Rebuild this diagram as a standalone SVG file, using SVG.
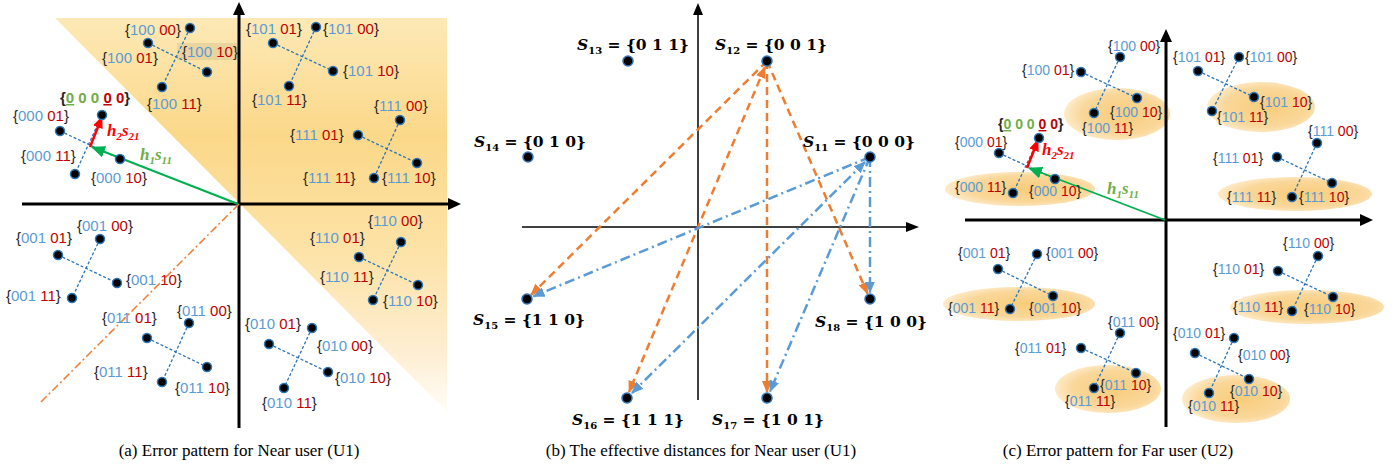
<svg xmlns="http://www.w3.org/2000/svg" width="1396" height="466" viewBox="0 0 1396 466">
<defs>
<style>
.l{font-family:"Liberation Sans",Arial,sans-serif;font-size:15px;fill:#262626}
.lc{font-size:14px}
.b{fill:#5b9bd5}
.r{fill:#c00000}
.g{fill:#70ad47}
.dot{fill:#000;stroke:#2e75b6;stroke-width:1.5}
.cl{stroke:#2e75b6;stroke-width:1.3;stroke-dasharray:3 2;fill:none}
.ax{stroke:#000;stroke-width:3;fill:none}
.axt{stroke:#000;stroke-width:1.5;fill:none}
.m{font-family:"Liberation Serif","DejaVu Serif",serif;font-size:17px;font-weight:bold;font-style:italic}
.s{font-family:"DejaVu Serif",serif;font-size:15.5px;font-weight:bold;fill:#000}
.or{stroke:#ed7d31;stroke-width:2.5;stroke-dasharray:8 5;fill:none}
.bl{stroke:#5b9bd5;stroke-width:2.5;stroke-dasharray:10 4 2 4;fill:none}
.cap{font-family:"Liberation Serif","Times New Roman",serif;font-size:17px;fill:#000;text-anchor:middle}
.ell{fill:url(#eg)}
</style>
<linearGradient id="tg" gradientUnits="userSpaceOnUse" x1="0" y1="18" x2="0" y2="412">
<stop offset="0" stop-color="#fde9b6"/>
<stop offset="0.3" stop-color="#fbd889"/>
<stop offset="0.6" stop-color="#fde3a8"/>
<stop offset="0.85" stop-color="#feeed2"/>
<stop offset="1" stop-color="#fffdf8"/>
</linearGradient>
<radialGradient id="eg" cx="0.55" cy="0.5" r="0.55">
<stop offset="0" stop-color="#f8cc7a"/>
<stop offset="0.7" stop-color="#fad79a"/>
<stop offset="1" stop-color="#fdebc8"/>
</radialGradient>
<marker id="mo" markerUnits="userSpaceOnUse" markerWidth="12" markerHeight="10" refX="11" refY="5" orient="auto-start-reverse"><path d="M0,0 L12,5 L0,10 z" fill="#ed7d31"/></marker>
<marker id="mb" markerUnits="userSpaceOnUse" markerWidth="12" markerHeight="10" refX="11" refY="5" orient="auto-start-reverse"><path d="M0,0 L12,5 L0,10 z" fill="#5b9bd5"/></marker>
<marker id="mg" markerUnits="userSpaceOnUse" markerWidth="14" markerHeight="12" refX="13" refY="6" orient="auto"><path d="M0,0 L14,6 L0,12 z" fill="#00b050"/></marker>
<marker id="mr" markerUnits="userSpaceOnUse" markerWidth="12" markerHeight="10" refX="11" refY="5" orient="auto"><path d="M0,0 L12,5 L0,10 z" fill="#ff0000"/></marker>
</defs>
<rect width="1396" height="466" fill="#fff"/>

<!-- ============ Panel (a) ============ -->
<g id="panel-a">
<polygon points="55,18 447,18 447,412" fill="url(#tg)"/>
<rect x="177" y="43" width="62" height="17" fill="#000" opacity="0.07"/>
<g id="a-axes">
<line class="ax" x1="239" y1="12" x2="239" y2="428"/>
<polygon points="239,2 233,15 245,15" fill="#000"/>
<line class="ax" x1="22" y1="204" x2="450" y2="204"/>
<polygon points="461,204 448,198 448,210" fill="#000"/>
</g>
<g id="a-connectors">
<line x1="239" y1="204" x2="40" y2="403" stroke="#ed7d31" stroke-width="1.5" stroke-dasharray="8 3 2 3"/>
<line class="cl" x1="60" y1="131" x2="120" y2="159"/><line class="cl" x1="102" y1="115" x2="75" y2="174"/>
<line class="cl" x1="148" y1="43" x2="207" y2="72"/><line class="cl" x1="190" y1="28" x2="162" y2="87"/>
<line class="cl" x1="273" y1="43" x2="333" y2="71"/><line class="cl" x1="316" y1="27" x2="289" y2="86"/>
<line class="cl" x1="358" y1="135" x2="417" y2="163"/><line class="cl" x1="400" y1="120" x2="374" y2="178"/>
<line class="cl" x1="58" y1="255" x2="117" y2="283"/><line class="cl" x1="100" y1="239" x2="72" y2="298"/>
<line class="cl" x1="147" y1="338" x2="207" y2="367"/><line class="cl" x1="189" y1="323" x2="162" y2="382"/>
<line class="cl" x1="359" y1="257" x2="418" y2="285"/><line class="cl" x1="401" y1="242" x2="373" y2="300"/>
<line class="cl" x1="269" y1="344" x2="328" y2="372"/><line class="cl" x1="312" y1="328" x2="284" y2="388"/>
<line x1="238" y1="204" x2="92" y2="147" stroke="#00b050" stroke-width="2" marker-end="url(#mg)"/>
<line x1="90" y1="147" x2="102" y2="117" stroke="#ff0000" stroke-width="2.5" marker-end="url(#mr)"/>
</g>
<g id="a-g000">
<circle class="dot" cx="60" cy="131" r="4.5"/><circle class="dot" cx="102" cy="115" r="4.5"/><circle class="dot" cx="120" cy="159" r="4.5"/><circle class="dot" cx="75" cy="174" r="4.5"/>
<text class="l" x="13" y="121">{<tspan class="b">000</tspan> <tspan class="r">01</tspan>}</text>
<text class="l" x="21" y="161">{<tspan class="b">000</tspan> <tspan class="r">11</tspan>}</text>
<text class="l" x="91" y="183">{<tspan class="b">000</tspan> <tspan class="r">10</tspan>}</text>
<text class="l" x="60" y="103" font-weight="bold">{<tspan class="g" text-decoration="underline">0</tspan><tspan class="g"> 0 0 </tspan><tspan class="r" text-decoration="underline">0</tspan><tspan class="r"> 0</tspan>}</text>
<text class="m" x="107" y="136" fill="#ff0000">h<tspan font-size="11" dy="4">2</tspan><tspan dy="-4">s</tspan><tspan font-size="11" dy="4">21</tspan></text>
<text class="m" x="140" y="160" fill="#70ad47">h<tspan font-size="11" dy="4">1</tspan><tspan dy="-4">s</tspan><tspan font-size="11" dy="4">11</tspan></text>
</g>
<g id="a-g100">
<circle class="dot" cx="190" cy="28" r="4.5"/><circle class="dot" cx="148" cy="43" r="4.5"/><circle class="dot" cx="207" cy="72" r="4.5"/><circle class="dot" cx="162" cy="87" r="4.5"/>
<text class="l" x="125" y="35">{<tspan class="b">100</tspan> <tspan class="r">00</tspan>}</text>
<text class="l" x="102" y="63">{<tspan class="b">100</tspan> <tspan class="r">01</tspan>}</text>
<text class="l" x="182" y="57">{<tspan class="b">100</tspan> <tspan class="r">10</tspan>}</text>
<text class="l" x="147" y="109">{<tspan class="b">100</tspan> <tspan class="r">11</tspan>}</text>
</g>
<g id="a-g101">
<circle class="dot" cx="316" cy="27" r="4.5"/><circle class="dot" cx="273" cy="43" r="4.5"/><circle class="dot" cx="333" cy="71" r="4.5"/><circle class="dot" cx="289" cy="86" r="4.5"/>
<text class="l" x="246" y="34">{<tspan class="b">101</tspan> <tspan class="r">01</tspan>}</text>
<text class="l" x="323" y="34">{<tspan class="b">101</tspan> <tspan class="r">00</tspan>}</text>
<text class="l" x="343" y="76">{<tspan class="b">101</tspan> <tspan class="r">10</tspan>}</text>
<text class="l" x="252" y="105">{<tspan class="b">101</tspan> <tspan class="r">11</tspan>}</text>
</g>
<g id="a-g111">
<circle class="dot" cx="400" cy="120" r="4.5"/><circle class="dot" cx="358" cy="135" r="4.5"/><circle class="dot" cx="417" cy="163" r="4.5"/><circle class="dot" cx="374" cy="178" r="4.5"/>
<text class="l" x="374" y="111">{<tspan class="b">111</tspan> <tspan class="r">00</tspan>}</text>
<text class="l" x="290" y="140">{<tspan class="b">111</tspan> <tspan class="r">01</tspan>}</text>
<text class="l" x="303" y="183">{<tspan class="b">111</tspan> <tspan class="r">11</tspan>}</text>
<text class="l" x="382" y="183">{<tspan class="b">111</tspan> <tspan class="r">10</tspan>}</text>
</g>
<g id="a-g001">
<circle class="dot" cx="100" cy="239" r="4.5"/><circle class="dot" cx="58" cy="255" r="4.5"/><circle class="dot" cx="117" cy="283" r="4.5"/><circle class="dot" cx="72" cy="298" r="4.5"/>
<text class="l" x="77" y="231">{<tspan class="b">001</tspan> <tspan class="r">00</tspan>}</text>
<text class="l" x="16" y="243">{<tspan class="b">001</tspan> <tspan class="r">01</tspan>}</text>
<text class="l" x="126" y="285">{<tspan class="b">001</tspan> <tspan class="r">10</tspan>}</text>
<text class="l" x="6" y="301">{<tspan class="b">001</tspan> <tspan class="r">11</tspan>}</text>
</g>
<g id="a-g011">
<circle class="dot" cx="189" cy="323" r="4.5"/><circle class="dot" cx="147" cy="338" r="4.5"/><circle class="dot" cx="207" cy="367" r="4.5"/><circle class="dot" cx="162" cy="382" r="4.5"/>
<text class="l" x="177" y="316">{<tspan class="b">011</tspan> <tspan class="r">00</tspan>}</text>
<text class="l" x="102" y="323">{<tspan class="b">011</tspan> <tspan class="r">01</tspan>}</text>
<text class="l" x="94" y="377">{<tspan class="b">011</tspan> <tspan class="r">11</tspan>}</text>
<text class="l" x="175" y="393">{<tspan class="b">011</tspan> <tspan class="r">10</tspan>}</text>
</g>
<g id="a-g110">
<circle class="dot" cx="401" cy="242" r="4.5"/><circle class="dot" cx="359" cy="257" r="4.5"/><circle class="dot" cx="418" cy="285" r="4.5"/><circle class="dot" cx="373" cy="300" r="4.5"/>
<text class="l" x="368" y="226">{<tspan class="b">110</tspan> <tspan class="r">00</tspan>}</text>
<text class="l" x="310" y="243">{<tspan class="b">110</tspan> <tspan class="r">01</tspan>}</text>
<text class="l" x="320" y="282">{<tspan class="b">110</tspan> <tspan class="r">11</tspan>}</text>
<text class="l" x="383" y="306">{<tspan class="b">110</tspan> <tspan class="r">10</tspan>}</text>
</g>
<g id="a-g010">
<circle class="dot" cx="312" cy="328" r="4.5"/><circle class="dot" cx="269" cy="344" r="4.5"/><circle class="dot" cx="328" cy="372" r="4.5"/><circle class="dot" cx="284" cy="388" r="4.5"/>
<text class="l" x="245" y="329">{<tspan class="b">010</tspan> <tspan class="r">01</tspan>}</text>
<text class="l" x="317" y="351">{<tspan class="b">010</tspan> <tspan class="r">00</tspan>}</text>
<text class="l" x="335" y="383">{<tspan class="b">010</tspan> <tspan class="r">10</tspan>}</text>
<text class="l" x="262" y="408">{<tspan class="b">010</tspan> <tspan class="r">11</tspan>}</text>
</g>
<text class="cap" x="239" y="456">(a) Error pattern for Near user (U1)</text>
</g>

<!-- ============ Panel (b) ============ -->
<g id="panel-b">
<g id="b-axes">
<line class="axt" x1="698" y1="12" x2="698" y2="400"/>
<polygon points="698,3 693,15 703,15" fill="#000"/>
<line class="axt" x1="522" y1="227" x2="908" y2="227"/>
<polygon points="919,227 906,222 906,232" fill="#000"/>
</g>
<g id="b-connectors">
<line class="or" x1="767" y1="61" x2="531" y2="295" marker-end="url(#mo)"/>
<line class="or" x1="765" y1="67" x2="629" y2="392" marker-start="url(#mo)" marker-end="url(#mo)"/>
<line class="or" x1="767" y1="61" x2="767" y2="392" marker-end="url(#mo)"/>
<line class="or" x1="767" y1="61" x2="867.5" y2="293.5" marker-end="url(#mo)"/>
<line class="bl" x1="870" y1="157" x2="533.5" y2="296.3" marker-end="url(#mb)"/>
<line class="bl" x1="865" y1="162" x2="632" y2="393" marker-start="url(#mb)" marker-end="url(#mb)"/>
<line class="bl" x1="870" y1="157" x2="770" y2="391.5" marker-end="url(#mb)"/>
<line class="bl" x1="870" y1="157" x2="870" y2="292.5" marker-end="url(#mb)"/>
</g>
<g id="b-s11"><circle class="dot" cx="870" cy="157" r="5"/><text class="s" x="803" y="147"><tspan font-style="italic">S</tspan><tspan font-size="10" dy="4">11</tspan><tspan dy="-4"> = {0 0 0}</tspan></text></g>
<g id="b-s12"><circle class="dot" cx="767" cy="61" r="5"/><text class="s" x="715" y="50"><tspan font-style="italic">S</tspan><tspan font-size="10" dy="4">12</tspan><tspan dy="-4"> = {0 0 1}</tspan></text></g>
<g id="b-s13"><circle class="dot" cx="628" cy="61" r="5"/><text class="s" x="577" y="50"><tspan font-style="italic">S</tspan><tspan font-size="10" dy="4">13</tspan><tspan dy="-4"> = {0 1 1}</tspan></text></g>
<g id="b-s14"><circle class="dot" cx="528" cy="157" r="5"/><text class="s" x="474" y="147"><tspan font-style="italic">S</tspan><tspan font-size="10" dy="4">14</tspan><tspan dy="-4"> = {0 1 0}</tspan></text></g>
<g id="b-s15"><circle class="dot" cx="527" cy="299" r="5"/><text class="s" x="473" y="325"><tspan font-style="italic">S</tspan><tspan font-size="10" dy="4">15</tspan><tspan dy="-4"> = {1 1 0}</tspan></text></g>
<g id="b-s16"><circle class="dot" cx="627" cy="398" r="5"/><text class="s" x="572" y="425"><tspan font-style="italic">S</tspan><tspan font-size="10" dy="4">16</tspan><tspan dy="-4"> = {1 1 1}</tspan></text></g>
<g id="b-s17"><circle class="dot" cx="767" cy="398" r="5"/><text class="s" x="712" y="425"><tspan font-style="italic">S</tspan><tspan font-size="10" dy="4">17</tspan><tspan dy="-4"> = {1 0 1}</tspan></text></g>
<g id="b-s18"><circle class="dot" cx="870" cy="299" r="5"/><text class="s" x="815" y="327"><tspan font-style="italic">S</tspan><tspan font-size="10" dy="4">18</tspan><tspan dy="-4"> = {1 0 0}</tspan></text></g>
<text class="cap" x="701" y="456">(b) The effective distances for Near user (U1)</text>
</g>

<!-- ============ Panel (c) ============ -->
<g id="panel-c">
<g id="c-ellipses">
<ellipse class="ell" cx="1020" cy="189" rx="75" ry="17"/>
<ellipse class="ell" cx="1117" cy="114" rx="53" ry="26"/>
<ellipse class="ell" cx="1261" cy="107" rx="54" ry="25"/>
<ellipse class="ell" cx="1295" cy="194" rx="77" ry="17"/>
<ellipse class="ell" cx="1019" cy="304" rx="76" ry="17"/>
<ellipse class="ell" cx="1108" cy="389" rx="53" ry="24"/>
<ellipse class="ell" cx="1307" cy="307" rx="77" ry="17"/>
<ellipse class="ell" cx="1236" cy="399" rx="54" ry="24"/>
</g>
<g id="c-axes">
<line class="ax" x1="1166" y1="40" x2="1166" y2="427"/>
<polygon points="1166,29 1160,42 1172,42" fill="#000"/>
<line class="ax" x1="965" y1="220" x2="1362" y2="220"/>
<polygon points="1373,220 1360,214 1360,226" fill="#000"/>
</g>
<g id="c-connectors">
<line class="cl" x1="999" y1="153" x2="1055" y2="179"/><line class="cl" x1="1039" y1="138" x2="1013" y2="193"/>
<line class="cl" x1="1081" y1="72" x2="1137" y2="98"/><line class="cl" x1="1120" y1="57" x2="1094" y2="113"/>
<line class="cl" x1="1198" y1="71" x2="1254" y2="97"/><line class="cl" x1="1239" y1="57" x2="1212" y2="111"/>
<line class="cl" x1="1277" y1="157" x2="1332" y2="183"/><line class="cl" x1="1317" y1="143" x2="1292" y2="197"/>
<line class="cl" x1="998" y1="269" x2="1053" y2="296"/><line class="cl" x1="1037" y1="254" x2="1010" y2="309"/>
<line class="cl" x1="1081" y1="348" x2="1136" y2="373"/><line class="cl" x1="1120" y1="333" x2="1094" y2="388"/>
<line class="cl" x1="1278" y1="271" x2="1333" y2="297"/><line class="cl" x1="1318" y1="256" x2="1292" y2="311"/>
<line class="cl" x1="1195" y1="353" x2="1249" y2="379"/><line class="cl" x1="1234" y1="338" x2="1209" y2="393"/>
<line x1="1165" y1="220" x2="1029" y2="168" stroke="#00b050" stroke-width="1.8" marker-end="url(#mg)"/>
<line x1="1027" y1="168" x2="1038" y2="140" stroke="#ff0000" stroke-width="2.5" marker-end="url(#mr)"/>
</g>
<g id="c-g000">
<circle class="dot" cx="1039" cy="138" r="4.5"/><circle class="dot" cx="999" cy="153" r="4.5"/><circle class="dot" cx="1055" cy="179" r="4.5"/><circle class="dot" cx="1013" cy="193" r="4.5"/>
<text class="l lc" x="955" y="147">{<tspan class="b">000</tspan> <tspan class="r">01</tspan>}</text>
<text class="l lc" x="955" y="192">{<tspan class="b">000</tspan> <tspan class="r">11</tspan>}</text>
<text class="l lc" x="1029" y="196">{<tspan class="b">000</tspan> <tspan class="r">10</tspan>}</text>
<text class="l lc" x="998" y="129" font-weight="bold">{<tspan class="g" text-decoration="underline">0</tspan><tspan class="g"> 0 0 </tspan><tspan class="r" text-decoration="underline">0</tspan><tspan class="r"> 0</tspan>}</text>
<text class="m" x="1042" y="155" fill="#ff0000">h<tspan font-size="11" dy="4">2</tspan><tspan dy="-4">s</tspan><tspan font-size="11" dy="4">21</tspan></text>
<text class="m" x="1107" y="194" fill="#70ad47">h<tspan font-size="11" dy="4">1</tspan><tspan dy="-4">s</tspan><tspan font-size="11" dy="4">11</tspan></text>
</g>
<g id="c-g100">
<circle class="dot" cx="1120" cy="57" r="4.5"/><circle class="dot" cx="1081" cy="72" r="4.5"/><circle class="dot" cx="1137" cy="98" r="4.5"/><circle class="dot" cx="1094" cy="113" r="4.5"/>
<text class="l lc" x="1108" y="51">{<tspan class="b">100</tspan> <tspan class="r">00</tspan>}</text>
<text class="l lc" x="1022" y="75">{<tspan class="b">100</tspan> <tspan class="r">01</tspan>}</text>
<text class="l lc" x="1110" y="117">{<tspan class="b">100</tspan> <tspan class="r">10</tspan>}</text>
<text class="l lc" x="1082" y="133">{<tspan class="b">100</tspan> <tspan class="r">11</tspan>}</text>
</g>
<g id="c-g101">
<circle class="dot" cx="1239" cy="57" r="4.5"/><circle class="dot" cx="1198" cy="71" r="4.5"/><circle class="dot" cx="1254" cy="97" r="4.5"/><circle class="dot" cx="1212" cy="111" r="4.5"/>
<text class="l lc" x="1173" y="62">{<tspan class="b">101</tspan> <tspan class="r">01</tspan>}</text>
<text class="l lc" x="1245" y="62">{<tspan class="b">101</tspan> <tspan class="r">00</tspan>}</text>
<text class="l lc" x="1260" y="107">{<tspan class="b">101</tspan> <tspan class="r">10</tspan>}</text>
<text class="l lc" x="1217" y="122">{<tspan class="b">101</tspan> <tspan class="r">11</tspan>}</text>
</g>
<g id="c-g111">
<circle class="dot" cx="1317" cy="143" r="4.5"/><circle class="dot" cx="1277" cy="157" r="4.5"/><circle class="dot" cx="1332" cy="183" r="4.5"/><circle class="dot" cx="1292" cy="197" r="4.5"/>
<text class="l lc" x="1308" y="136">{<tspan class="b">111</tspan> <tspan class="r">00</tspan>}</text>
<text class="l lc" x="1213" y="163">{<tspan class="b">111</tspan> <tspan class="r">01</tspan>}</text>
<text class="l lc" x="1227" y="202">{<tspan class="b">111</tspan> <tspan class="r">11</tspan>}</text>
<text class="l lc" x="1299" y="202">{<tspan class="b">111</tspan> <tspan class="r">10</tspan>}</text>
</g>
<g id="c-g001">
<circle class="dot" cx="1037" cy="254" r="4.5"/><circle class="dot" cx="998" cy="269" r="4.5"/><circle class="dot" cx="1053" cy="296" r="4.5"/><circle class="dot" cx="1010" cy="309" r="4.5"/>
<text class="l lc" x="958" y="258">{<tspan class="b">001</tspan> <tspan class="r">01</tspan>}</text>
<text class="l lc" x="1046" y="258">{<tspan class="b">001</tspan> <tspan class="r">00</tspan>}</text>
<text class="l lc" x="948" y="313">{<tspan class="b">001</tspan> <tspan class="r">11</tspan>}</text>
<text class="l lc" x="1029" y="313">{<tspan class="b">001</tspan> <tspan class="r">10</tspan>}</text>
</g>
<g id="c-g011">
<circle class="dot" cx="1120" cy="333" r="4.5"/><circle class="dot" cx="1081" cy="348" r="4.5"/><circle class="dot" cx="1136" cy="373" r="4.5"/><circle class="dot" cx="1094" cy="388" r="4.5"/>
<text class="l lc" x="1108" y="327">{<tspan class="b">011</tspan> <tspan class="r">00</tspan>}</text>
<text class="l lc" x="1015" y="353">{<tspan class="b">011</tspan> <tspan class="r">01</tspan>}</text>
<text class="l lc" x="1100" y="390">{<tspan class="b">011</tspan> <tspan class="r">10</tspan>}</text>
<text class="l lc" x="1065" y="406">{<tspan class="b">011</tspan> <tspan class="r">11</tspan>}</text>
</g>
<g id="c-g110">
<circle class="dot" cx="1318" cy="256" r="4.5"/><circle class="dot" cx="1278" cy="271" r="4.5"/><circle class="dot" cx="1333" cy="297" r="4.5"/><circle class="dot" cx="1292" cy="311" r="4.5"/>
<text class="l lc" x="1283" y="248">{<tspan class="b">110</tspan> <tspan class="r">00</tspan>}</text>
<text class="l lc" x="1213" y="274">{<tspan class="b">110</tspan> <tspan class="r">01</tspan>}</text>
<text class="l lc" x="1233" y="312">{<tspan class="b">110</tspan> <tspan class="r">11</tspan>}</text>
<text class="l lc" x="1304" y="314">{<tspan class="b">110</tspan> <tspan class="r">10</tspan>}</text>
</g>
<g id="c-g010">
<circle class="dot" cx="1234" cy="338" r="4.5"/><circle class="dot" cx="1195" cy="353" r="4.5"/><circle class="dot" cx="1249" cy="379" r="4.5"/><circle class="dot" cx="1209" cy="393" r="4.5"/>
<text class="l lc" x="1173" y="338">{<tspan class="b">010</tspan> <tspan class="r">01</tspan>}</text>
<text class="l lc" x="1238" y="360">{<tspan class="b">010</tspan> <tspan class="r">00</tspan>}</text>
<text class="l lc" x="1230" y="396">{<tspan class="b">010</tspan> <tspan class="r">10</tspan>}</text>
<text class="l lc" x="1188" y="411">{<tspan class="b">010</tspan> <tspan class="r">11</tspan>}</text>
</g>
<text class="cap" x="1118" y="456">(c) Error pattern for Far user (U2)</text>
</g>
</svg>
